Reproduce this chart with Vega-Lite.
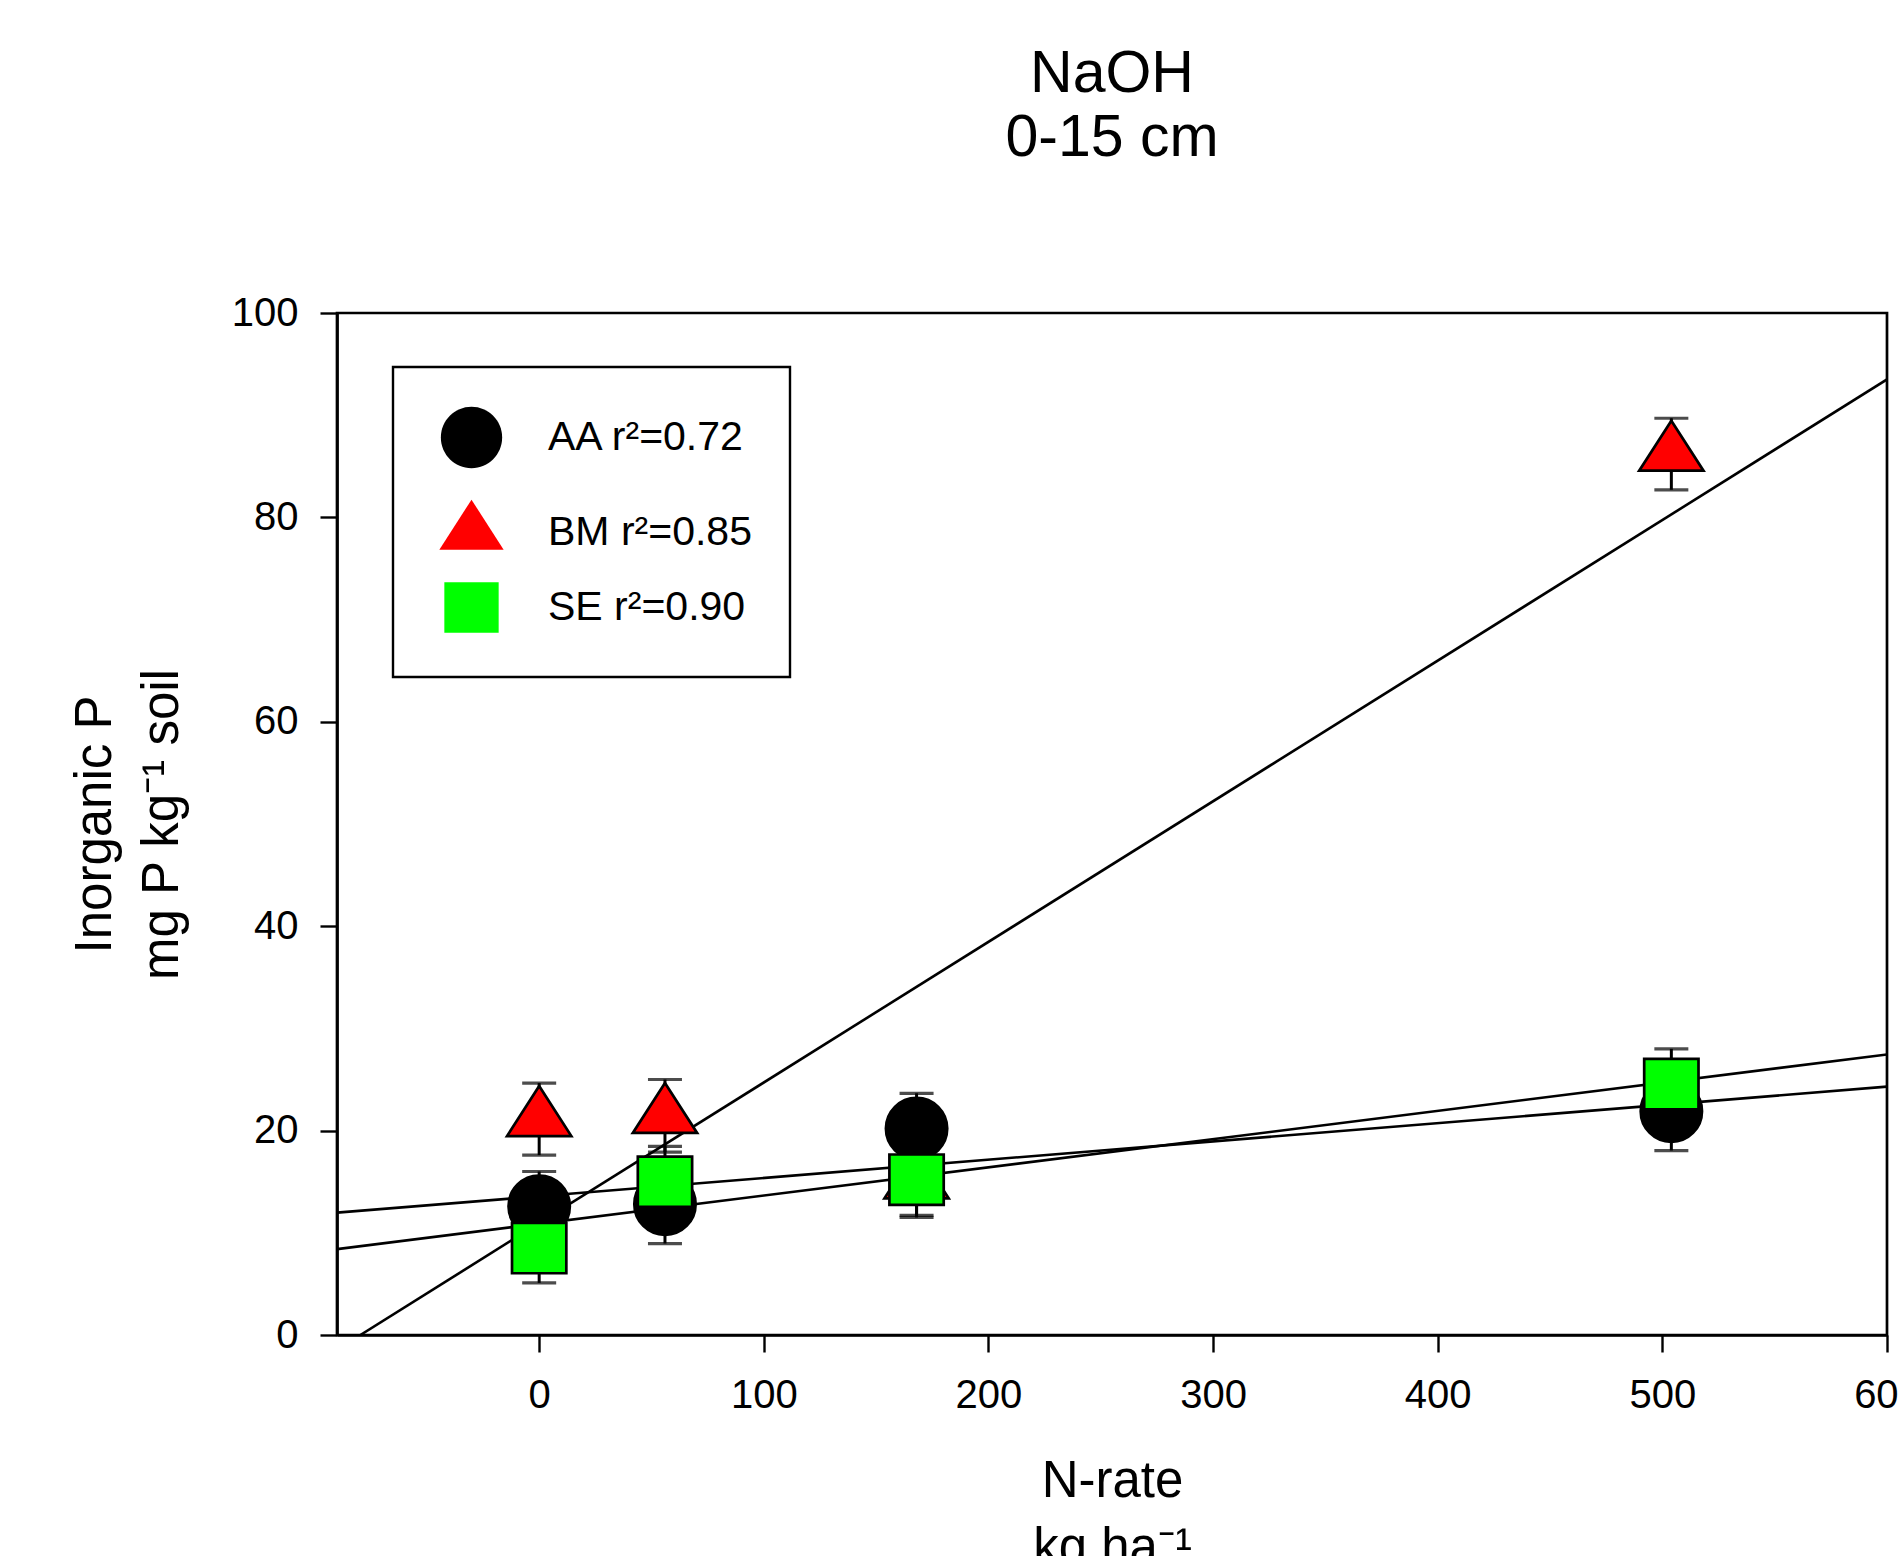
{
  "$schema": "https://vega.github.io/schema/vega-lite/v6.json",
  "autosize": {"type": "none"},
  "width": 1550,
  "height": 1022,
  "padding": {"left": 337, "top": 313, "right": 12, "bottom": 221},
  "background": "white",
  "title": {
    "text": ["NaOH", "0-15 cm"],
    "fontSize": 59,
    "fontWeight": "normal",
    "font": "Liberation Sans",
    "color": "black",
    "lineHeight": 64,
    "anchor": "middle",
    "offset": 125
  },
  "datasets": {
    "points": [
      {"series": "BM r²=0.85", "n": 0, "p": 21.1, "lo": 17.6, "hi": 24.65},
      {"series": "BM r²=0.85", "n": 56, "p": 21.4, "lo": 17.9, "hi": 25.0},
      {"series": "BM r²=0.85", "n": 168, "p": 15.0, "lo": 11.5, "hi": 18.5},
      {"series": "BM r²=0.85", "n": 504, "p": 86.2, "lo": 82.7, "hi": 89.7},
      {"series": "AA r²=0.72", "n": 0, "p": 12.6, "lo": 9.2, "hi": 16.0},
      {"series": "AA r²=0.72", "n": 56, "p": 12.8, "lo": 8.95, "hi": 16.65},
      {"series": "AA r²=0.72", "n": 168, "p": 20.2, "lo": 16.75, "hi": 23.65},
      {"series": "AA r²=0.72", "n": 504, "p": 21.9, "lo": 18.05, "hi": 25.75},
      {"series": "SE r²=0.90", "n": 0, "p": 8.5, "lo": 5.1, "hi": 11.9},
      {"series": "SE r²=0.90", "n": 56, "p": 15.0, "lo": 11.6, "hi": 18.45},
      {"series": "SE r²=0.90", "n": 168, "p": 15.2, "lo": 11.7, "hi": 18.7},
      {"series": "SE r²=0.90", "n": 504, "p": 24.55, "lo": 21.1, "hi": 28.0}
    ],
    "fits": [
      {"series": "AA", "n": -90, "p": 11.97},
      {"series": "AA", "n": 600, "p": 24.3},
      {"series": "BM", "n": -79.6, "p": 0},
      {"series": "BM", "n": 600, "p": 93.5},
      {"series": "SE", "n": -90, "p": 8.4},
      {"series": "SE", "n": 600, "p": 27.45}
    ]
  },
  "encoding": {
    "x": {
      "field": "n",
      "type": "quantitative",
      "scale": {"domain": [-90, 600], "nice": false, "zero": false},
      "axis": {
        "values": [0, 100, 200, 300, 400, 500, 600],
        "title": ["N-rate", "kg ha⁻¹"],
        "labelFlush": false,
        "labelOverlap": false,
        "labelBound": false,
        "labelPadding": 23,
        "titlePadding": 41
      }
    },
    "y": {
      "field": "p",
      "type": "quantitative",
      "scale": {"domain": [0, 100], "nice": false, "zero": false},
      "axis": {
        "values": [0, 20, 40, 60, 80, 100],
        "title": ["Inorganic P", "mg P kg⁻¹ soil"],
        "labelPadding": 22,
        "titlePadding": 43
      }
    }
  },
  "layer": [
    {
      "data": {"name": "fits"},
      "mark": {"type": "line", "color": "black", "strokeWidth": 2.6, "clip": true},
      "encoding": {"detail": {"field": "series", "type": "nominal"}}
    },
    {
      "data": {"name": "points"},
      "mark": {"type": "rule", "color": "black", "strokeWidth": 3},
      "encoding": {
        "y": {"field": "lo", "type": "quantitative"},
        "y2": {"field": "hi"},
        "detail": {"field": "series", "type": "nominal"}
      }
    },
    {
      "data": {"name": "points"},
      "mark": {"type": "tick", "orient": "horizontal", "color": "black", "size": 34, "thickness": 3.2},
      "encoding": {"y": {"field": "lo", "type": "quantitative"}}
    },
    {
      "data": {"name": "points"},
      "mark": {"type": "tick", "orient": "horizontal", "color": "black", "size": 34, "thickness": 3.2},
      "encoding": {"y": {"field": "hi", "type": "quantitative"}}
    },
    {
      "data": {"name": "points"},
      "mark": {"type": "point", "filled": true, "stroke": "black", "strokeWidth": 2.7, "size": 3758, "opacity": 1},
      "encoding": {
        "shape": {
          "field": "series",
          "type": "nominal",
          "scale": {
            "domain": ["AA r²=0.72", "BM r²=0.85", "SE r²=0.90"],
            "range": [
              "M1,0A1,1,0,1,1,-1,0A1,1,0,1,1,1,0Z",
              "M0,-1.087L1.049,0.544L-1.049,0.544Z",
              "M-0.886,-0.82L0.886,-0.82L0.886,0.82L-0.886,0.82Z"
            ]
          },
          "legend": {"title": null}
        },
        "fill": {
          "field": "series",
          "type": "nominal",
          "scale": {
            "domain": ["AA r²=0.72", "BM r²=0.85", "SE r²=0.90"],
            "range": ["#000000", "#FF0000", "#00FF00"]
          },
          "legend": {"title": null}
        }
      }
    }
  ],
  "config": {
    "font": "Liberation Sans",
    "view": {"stroke": "black", "strokeWidth": 2.7, "fill": "white"},
    "axis": {
      "grid": false,
      "domainColor": "black",
      "domainWidth": 2.7,
      "tickColor": "black",
      "tickWidth": 2.4,
      "tickSize": 17,
      "labelFont": "Liberation Sans",
      "labelFontSize": 40,
      "labelColor": "black",
      "titleFont": "Liberation Sans",
      "titleFontSize": 51,
      "titleFontWeight": "normal",
      "titleColor": "black",
      "titleLineHeight": 67
    },
    "legend": {
      "orient": "none",
      "legendX": 56,
      "legendY": 54,
      "strokeColor": "black",
      "fillColor": "white",
      "strokeWidth": 2.4,
      "cornerRadius": 0,
      "padding": 38,
      "symbolSize": 3758,
      "symbolOffset": 8,
      "symbolStrokeColor": "black",
      "symbolStrokeWidth": 2.7,
      "labelFont": "Liberation Sans",
      "labelFontSize": 41,
      "labelColor": "black",
      "labelOffset": 44,
      "rowPadding": 19.5,
      "labelLimit": 0
    }
  }
}
